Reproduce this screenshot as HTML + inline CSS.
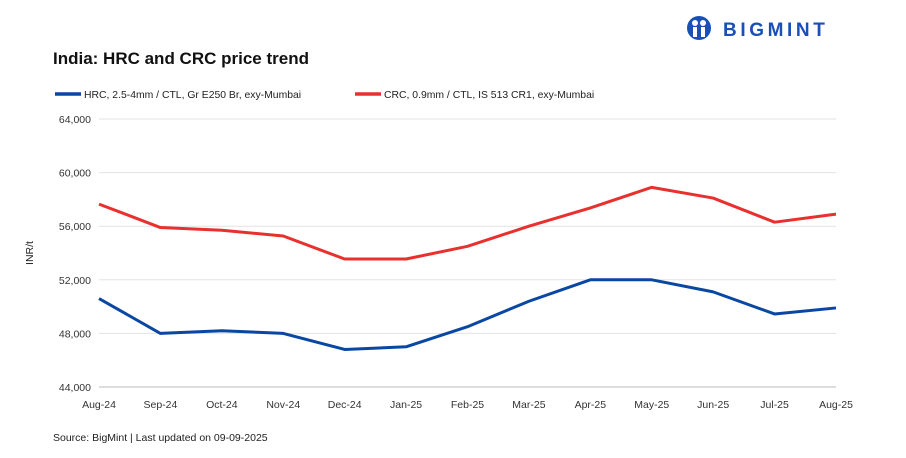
<!DOCTYPE html>
<html><head><meta charset="utf-8"><style>
body{margin:0;background:#fff;width:906px;height:453px;overflow:hidden;font-family:"Liberation Sans",sans-serif}
</style></head><body>
<svg id="c" width="906" height="453" xmlns="http://www.w3.org/2000/svg">
<g>
<circle cx="699" cy="28" r="12" fill="#1a4fb5"/>
<circle cx="695" cy="23" r="3" fill="#fff"/><circle cx="703" cy="23" r="3" fill="#fff"/>
<rect x="693" y="27" width="4" height="10" fill="#fff"/><rect x="701" y="27" width="4" height="10" fill="#fff"/>
<text x="723" y="36" font-size="19" font-weight="bold" fill="#1a4fb5" letter-spacing="3.6">BIGMINT</text>
</g>
<text x="53" y="64" font-size="17" font-weight="bold" fill="#111">India: HRC and CRC price trend</text>
<g>
<line x1="55" y1="94" x2="81" y2="94" stroke="#0a47a3" stroke-width="3.5"/>
<text x="84" y="98" font-size="10.4" fill="#222">HRC, 2.5-4mm / CTL, Gr E250 Br, exy-Mumbai</text>
<line x1="355" y1="94" x2="381" y2="94" stroke="#e8302f" stroke-width="3.5"/>
<text x="384" y="98" font-size="10.4" fill="#222">CRC, 0.9mm / CTL, IS 513 CR1, exy-Mumbai</text>
</g>
<text transform="translate(33,253) rotate(-90)" font-size="10.5" text-anchor="middle" fill="#222">INR/t</text>
<g id="grid"></g><g id="series"></g>
<text x="53" y="441" font-size="10.5" fill="#222">Source: BigMint | Last updated on 09-09-2025</text>
</svg>
<script>
const categories=["Aug-24","Sep-24","Oct-24","Nov-24","Dec-24","Jan-25","Feb-25","Mar-25","Apr-25","May-25","Jun-25","Jul-25","Aug-25"];
const hrc=[50600,48000,48200,48000,46800,47000,48500,50400,52000,52000,51100,49450,49900];
const crc=[57650,55900,55700,55270,53550,53550,54500,56000,57360,58900,58100,56300,56900];
const yTicks=[44000,48000,52000,56000,60000,64000];
const NS="http://www.w3.org/2000/svg";
const x0=99,x1=836,yTop=119,yBot=387,yMin=44000,yMax=64000;
const xs=i=>x0+i*(x1-x0)/(categories.length-1);
const ys=v=>yBot-(v-yMin)/(yMax-yMin)*(yBot-yTop);
const g=document.getElementById('grid'),s=document.getElementById('series');
function mk(t,a,p){const e=document.createElementNS(NS,t);for(const k in a)e.setAttribute(k,a[k]);p.appendChild(e);return e;}
yTicks.forEach(v=>{
 const l=mk('line',{x1:x0,x2:x1,y1:ys(v),y2:ys(v),stroke:v===yMin?'#bbb':'#e3e3e3','stroke-width':1},g);
 
 
 const t=mk('text',{x:91,y:ys(v)+4,'font-size':10.5,'text-anchor':'end',fill:'#333'},g);
 t.textContent=v.toLocaleString('en-US');
 
 
});
categories.forEach((c,i)=>{
 const t=mk('text',{x:xs(i),y:408,'font-size':10.5,'text-anchor':'middle',fill:'#333'},g);
 t.textContent=c;
 
 
});
function line(d,col,name){
 const p=mk('polyline',{points:d.map((v,i)=>xs(i)+','+ys(v)).join(' '),fill:'none',stroke:col,'stroke-width':3,'stroke-linejoin':'round'},s);
 
 
}
line(crc,'#e8302f','crc-line');
line(hrc,'#0a47a3','hrc-line');
</script>
</body></html>
